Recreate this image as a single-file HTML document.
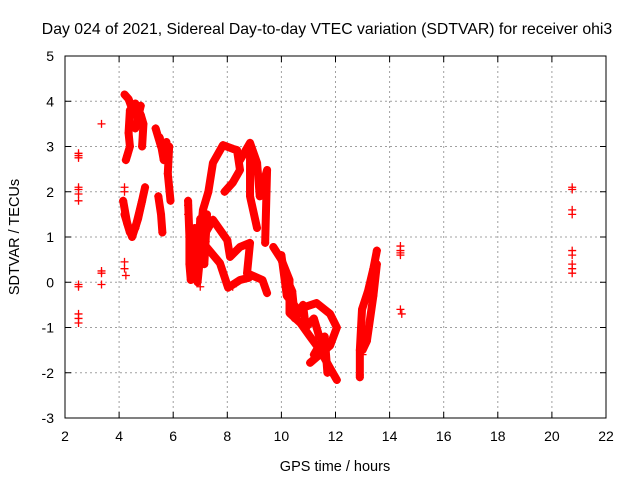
<!DOCTYPE html>
<html><head><meta charset="utf-8"><style>
body{margin:0;background:#fff}
svg{font-family:"Liberation Sans",sans-serif}
</style></head><body>
<svg id="chart" width="640" height="480">
<text x="327" y="34" font-size="15.8" text-anchor="middle">Day 024 of 2021, Sidereal Day-to-day VTEC variation (SDTVAR) for receiver ohi3</text>
<text x="335" y="471" font-size="14.5" text-anchor="middle">GPS time / hours</text>
<text transform="translate(19,237) rotate(-90)" font-size="14.5" text-anchor="middle">SDTVAR / TECUs</text>
<g id="grid"></g><g id="ticks"></g><g id="marks"></g>
<rect x="65" y="56" width="541" height="362" fill="none" stroke="#000"/>
</svg>
<script>
const xTicks=[2,4,6,8,10,12,14,16,18,20,22];
const yTicks=[-3,-2,-1,0,1,2,3,4,5];
// scattered points [hour, value]
const scatterPts=[[2.5,2.85],[2.5,2.8],[2.5,2.75],[2.5,2.1],[2.5,2.05],[2.5,1.95],[2.5,1.8],[2.5,-0.05],[2.5,-0.1],[2.5,-0.7],[2.5,-0.8],[2.5,-0.9],
[3.35,3.5],[3.35,0.25],[3.35,0.2],[3.35,-0.05],[4.2,0.45],[4.2,0.3],[4.25,0.15],[4.2,2.1],[4.2,2.0],
[14.4,0.8],[14.4,0.7],[14.4,0.6],[14.4,0.65],[14.4,-0.6],[14.45,-0.7],
[20.75,2.1],[20.75,2.05],[20.75,1.6],[20.75,1.5],[20.75,0.7],[20.75,0.6],[20.75,0.4],[20.75,0.3],[20.75,0.2],
[6.55,1.7],[6.55,1.5],[7.0,-0.1],[8.2,-0.1],[12.9,-2.05],[13.0,-1.6]];
// continuous tracks
const trackA=[[4.2,4.15],[4.35,4.05],[4.5,3.8],[4.6,3.95],[4.8,3.7],[4.9,3.5],[4.85,3.0]];
const trackA2=[[4.4,3.8],[4.35,3.3],[4.4,3.0],[4.3,2.8],[4.25,2.7]];
const trackA3=[[4.5,3.9],[4.7,3.6],[4.6,3.4],[4.8,3.9]];
const trackB=[[4.15,1.8],[4.3,1.3],[4.48,1.0],[4.7,1.4],[4.96,2.1]];
const trackB2=[[4.2,1.5],[4.4,1.1],[4.6,1.2],[4.85,1.8]];
const trackC=[[5.35,3.4],[5.55,3.0],[5.7,2.9],[5.85,3.0],[5.8,2.4],[5.9,1.8]];
const trackC2=[[5.45,1.9],[5.55,1.5],[5.6,1.1]];
const trackC3=[[5.5,3.2],[5.65,2.7],[5.75,3.1]];
const trackD=[[6.55,1.8],[6.6,1.0],[6.6,0.4],[6.65,0.05],[6.8,0.6],[7.0,1.0],[7.1,1.6],[7.3,2.0],[7.47,2.64],[7.84,3.03],[8.2,2.95],[8.36,2.92],[8.47,2.48],[8.2,2.2],[7.9,2.0]];
const trackD2=[[8.47,2.7],[8.84,3.08],[9.1,2.64],[9.2,1.9],[9.47,2.48],[9.4,0.87]];
const trackD3=[[8.84,3.0],[8.84,1.9],[9.1,1.2]];
const trackD4=[[6.7,0.2],[6.8,1.2],[6.9,0.3],[7.0,1.4],[7.15,0.4],[7.25,1.5],[6.75,0.8],[7.2,0.9]];
const trackE=[[6.9,0.0],[7.0,0.6],[7.2,1.1],[7.47,1.38],[8.0,0.93],[8.1,0.56],[8.47,0.78],[8.84,0.87],[8.73,0.2],[9.3,0.05],[9.47,-0.24]];
const trackE2=[[7.2,0.8],[7.73,0.42],[8.03,-0.12],[8.47,0.05],[8.8,0.1]];
const trackF=[[9.7,0.78],[10.0,0.5],[10.3,0.05],[10.3,-0.68],[10.7,-0.9],[11.06,-1.2],[11.43,-1.5],[11.8,-1.9],[12.05,-2.16]];
const trackF2=[[10.0,0.6],[10.2,-0.3],[10.6,-0.6],[11.3,-0.46],[11.8,-0.7],[12.05,-1.0],[11.8,-1.4],[11.06,-1.78]];
const trackF3=[[11.2,-1.6],[11.6,-1.2],[11.7,-2.0]];
const trackF4=[[10.1,0.2],[10.4,-0.2],[10.5,-0.8],[10.8,-0.5],[10.9,-1.0],[11.2,-0.8],[11.4,-1.2]];
const trackG=[[12.9,-2.1],[12.9,-1.5],[12.98,-0.6],[13.2,-0.2],[13.4,0.3],[13.53,0.7]];
const trackG2=[[13.53,0.4],[13.4,-0.3],[13.16,-1.3],[13.0,-1.5]];
const tracks=[trackA,trackA2,trackA3,trackB,trackB2,trackC,trackC2,trackC3,trackD,trackD2,trackD3,trackD4,trackE,trackE2,trackF,trackF2,trackF3,trackF4,trackG,trackG2];
const NS="http://www.w3.org/2000/svg";
const X=t=>65+(t-2)*541/20, Y=v=>418-(v+3)*362/8;
const grid=document.getElementById('grid'),tk=document.getElementById('ticks'),mk=document.getElementById('marks');
function el(n,a,p){const e=document.createElementNS(NS,n);for(const k in a)e.setAttribute(k,a[k]);p.appendChild(e);return e;}
xTicks.forEach(t=>{const x=X(t);
 if(t>2&&t<22){const g=el('line',{x1:x,x2:x,y1:56,y2:418,stroke:'#a0a0a0','stroke-dasharray':'2,3'},grid);
 
 }
 const l=el('text',{x:x,y:441,'font-size':14,'text-anchor':'middle'},tk);l.textContent=t;
 
 
 el('line',{x1:x,x2:x,y1:418,y2:412,stroke:'#000'},tk);el('line',{x1:x,x2:x,y1:56,y2:62,stroke:'#000'},tk);});
yTicks.forEach(v=>{const y=Y(v);
 if(v>-3&&v<5){const g=el('line',{x1:65,x2:606,y1:y,y2:y,stroke:'#a0a0a0','stroke-dasharray':'2,3'},grid);
 
 }
 const l=el('text',{x:54,y:y+5,'font-size':14,'text-anchor':'end'},tk);l.textContent=v;
 
 
 el('line',{x1:65,x2:71,y1:y,y2:y,stroke:'#000'},tk);el('line',{x1:606,x2:600,y1:y,y2:y,stroke:'#000'},tk);});
function plus(t,v){const x=X(t),y=Y(v);
 const p=el('path',{d:`M${x-4} ${y}H${x+4}M${x} ${y-4}V${y+4}`,stroke:'#f00','stroke-width':1.3},mk);
 
 }
tracks.forEach(tr=>{const pl=el('polyline',{points:tr.map(p=>X(p[0])+','+Y(p[1])).join(' '),fill:'none',stroke:'#f00','stroke-width':8,'stroke-linejoin':'round','stroke-linecap':'round'},mk);
 
 
 tr.forEach(p=>plus(p[0],p[1]));});
scatterPts.forEach(p=>plus(p[0],p[1]));
</script>
</body></html>
